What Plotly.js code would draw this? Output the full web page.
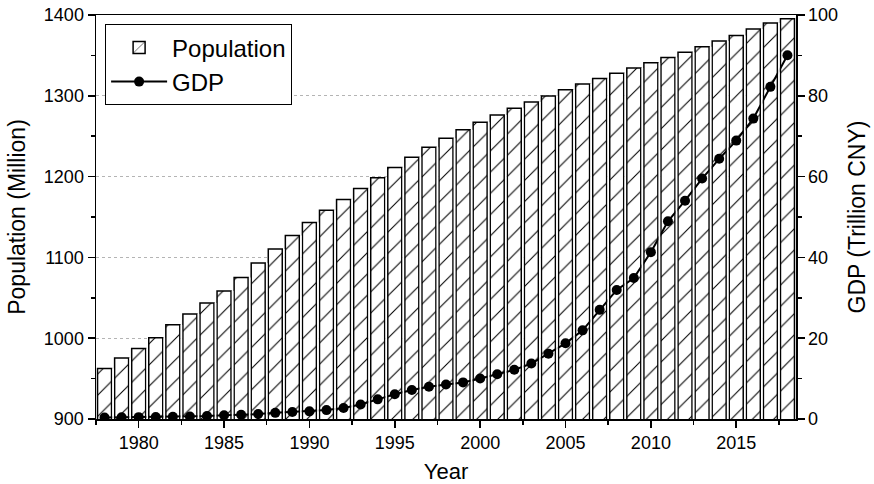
<!DOCTYPE html>
<html>
<head>
<meta charset="utf-8">
<script src="https://cdn.plot.ly/plotly-3.0.1.min.js"></script>
<style>html,body{margin:0;padding:0;background:#fff;}#chart{width:874px;height:484px;}</style>
</head>
<body>
<div id="chart"></div>
<script>
var years = [1978,1979,1980,1981,1982,1983,1984,1985,1986,1987,1988,1989,1990,1991,1992,1993,1994,1995,1996,1997,1998,1999,2000,2001,2002,2003,2004,2005,2006,2007,2008,2009,2010,2011,2012,2013,2014,2015,2016,2017,2018];
var population = [962.6,975.4,987.1,1000.7,1016.5,1030.1,1043.6,1058.5,1075.1,1093.0,1110.3,1127.0,1143.3,1158.2,1171.7,1185.2,1198.5,1211.2,1223.9,1236.3,1247.6,1257.9,1267.4,1276.3,1284.5,1292.3,1299.9,1307.6,1314.5,1321.3,1328.0,1334.5,1340.9,1347.4,1354.0,1360.7,1367.8,1374.6,1382.7,1390.1,1395.4];
var gdp = [0.37,0.41,0.46,0.49,0.53,0.60,0.73,0.91,1.04,1.22,1.52,1.72,1.89,2.20,2.72,3.57,4.86,6.13,7.18,7.97,8.52,9.06,10.03,11.09,12.17,13.74,16.18,18.73,21.94,27.02,31.95,34.91,41.30,48.93,54.04,59.52,64.40,68.91,74.36,82.21,90.03];
var xTicks = [1980,1985,1990,1995,2000,2005,2010,2015];

var FONT = 'Liberation Sans, Arial, sans-serif';

// white separators between neighbouring bars (derived from the data arrays)
var sepX = [], sepY = [];
for (var i = 0; i < years.length - 1; i++) {
  var xm = (years[i] + years[i+1]) / 2;
  sepX.push(xm, xm, null);
  sepY.push(900, Math.min(population[i], population[i+1]), null);
}

var traces = [
  {
    type: 'bar', name: 'Population', x: years, y: population, width: 0.82,
    xaxis: 'x', yaxis: 'y',
    marker: {
      color: '#ffffff',
      line: {color: '#000000', width: 1.5},
      pattern: {shape: '/', fgcolor: '#000000', bgcolor: '#ffffff', size: 15, solidity: 0.07, fillmode: 'replace'}
    },
    hoverinfo: 'skip'
  },
  {
    type: 'scatter', mode: 'lines+markers', name: 'GDP', x: years, y: gdp,
    xaxis: 'x', yaxis: 'y2',
    line: {color: '#000000', width: 2},
    marker: {color: '#000000', size: 10},
    hoverinfo: 'skip'
  },
  {
    type: 'scatter', mode: 'lines', x: sepX, y: sepY, xaxis: 'x', yaxis: 'y3',
    line: {color: '#ffffff', width: 1.6}, showlegend: false, hoverinfo: 'skip', connectgaps: false
  }
];

var axisCommon = {
  showline: true, linecolor: '#000', linewidth: 1.5,
  ticks: 'outside', ticklen: 7, tickwidth: 1.5, tickcolor: '#000',
  tickfont: {family: FONT, size: 18, color: '#000'},
  zeroline: false
};

var layout = {
  width: 874, height: 484,
  margin: {l: 96, r: 78, t: 15, b: 65},
  paper_bgcolor: '#fff', plot_bgcolor: '#fff',
  font: {family: FONT, color: '#000'},
  showlegend: true,
  legend: {
    x: 0.013, y: 0.977, xanchor: 'left', yanchor: 'top',
    bordercolor: '#000', borderwidth: 1, bgcolor: '#fff',
    font: {family: FONT, size: 24, color: '#000'},
    itemwidth: 56, tracegroupgap: 0, traceorder: 'normal'
  },
  xaxis: Object.assign({}, axisCommon, {
    range: [1977.5, 2018.5], tickvals: xTicks, ticktext: xTicks.map(String),
    mirror: true, showgrid: false,
    minor: {dtick: 2.5, tick0: 1977.5, ticks: 'outside', ticklen: 4, tickwidth: 1.5, tickcolor: '#000', showgrid: false},
    title: {text: 'Year', font: {family: FONT, size: 22, color: '#000'}, standoff: 12}
  }),
  yaxis: Object.assign({}, axisCommon, {
    range: [900, 1400], dtick: 100, tick0: 900, side: 'left',
    showgrid: true, gridcolor: '#b4b4b4', gridwidth: 1, griddash: '3px,3px',
    minor: {dtick: 50, tick0: 900, ticks: 'outside', ticklen: 4, tickwidth: 1.5, tickcolor: '#000', showgrid: false},
    title: {text: 'Population (Million)', font: {family: FONT, size: 23, color: '#000'}, standoff: 12}
  }),
  yaxis2: Object.assign({}, axisCommon, {
    range: [0, 100], dtick: 20, tick0: 0, side: 'right', overlaying: 'y', anchor: 'x',
    showgrid: false,
    minor: {dtick: 10, tick0: 0, ticks: 'outside', ticklen: 4, tickwidth: 1.5, tickcolor: '#000', showgrid: false},
    title: {text: 'GDP (Trillion CNY)', font: {family: FONT, size: 23, color: '#000'}, standoff: 12}
  }),
  yaxis3: {range: [900, 1400], overlaying: 'y', anchor: 'x', visible: false, showgrid: false, zeroline: false}
};

Plotly.newPlot('chart', traces, layout, {staticPlot: true, displayModeBar: false});
</script>
</body>
</html>
